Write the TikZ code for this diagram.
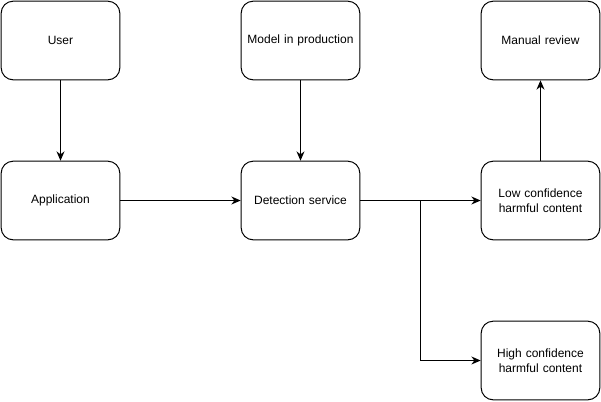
\documentclass[tikz,border=0pt]{standalone}
\usepackage{fontspec}
\setmainfont{Liberation Sans}
\usetikzlibrary{arrows.meta, positioning}

\tikzset{
  boxnode/.style={draw, line width=0.75pt, rounded corners=9pt, minimum width=89pt, minimum height=59pt, text width=80pt, align=center, font=\fontsize{9pt}{11pt}\selectfont},
  link/.style={->, line width=0.75pt}
}

\begin{document}
\begin{tikzpicture}[x=0.75pt, y=-0.75pt, >={Stealth[length=7pt, width=6pt]}]
    \useasboundingbox (0,0) rectangle (601,401);
    \node[boxnode] (user) at (60.5,40.5) {User};
    \node[boxnode] (model) at (300.5,40.5) {Model in production};
    \node[boxnode] (review) at (540.5,40.5) {Manual review};
    \node[boxnode] (app) at (60.5,200.5) {Application};
    \node[boxnode] (detect) at (300.5,200.5) {Detection service};
    \node[boxnode] (low) at (540.5,200.5) {Low confidence\\harmful content};
    \node[boxnode] (high) at (540.5,360.5) {High confidence\\harmful content};
    \coordinate (split) at (420.5,200.5);
    \draw[link] (user) -- (app);
    \draw[link] (model) -- (detect);
    \draw[link] (app) -- (detect);
    \draw[link] (detect) -- (low);
    \draw[link] (split) |- (high);
    \draw[link] (low) -- (review);
\end{tikzpicture}
\end{document}
